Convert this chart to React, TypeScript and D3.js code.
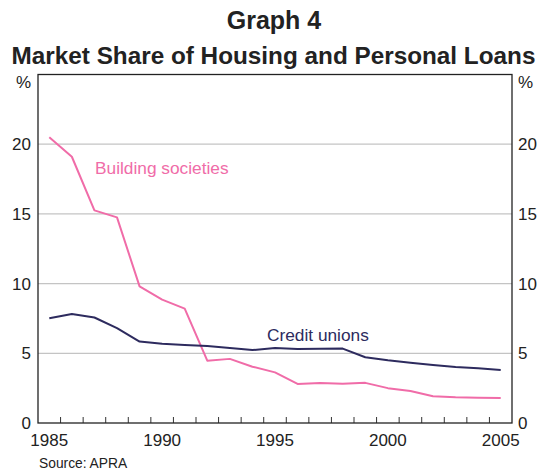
import React from "react";
import * as d3 from "d3";

const years: number[] = [1985, 1986, 1987, 1988, 1989, 1990, 1991, 1992, 1993, 1994, 1995, 1996, 1997, 1998, 1999, 2000, 2001, 2002, 2003, 2004, 2005];
const buildingSocieties: number[] = [20.5, 19.1, 15.25, 14.75, 9.8, 8.85, 8.2, 4.47, 4.6, 4.04, 3.63, 2.8, 2.87, 2.82, 2.88, 2.5, 2.3, 1.92, 1.85, 1.82, 1.8];
const creditUnions: number[] = [7.52, 7.82, 7.57, 6.8, 5.84, 5.68, 5.6, 5.52, 5.38, 5.23, 5.38, 5.3, 5.33, 5.34, 4.72, 4.5, 4.33, 4.16, 4.02, 3.92, 3.8];
const yTicks: number[] = [0, 5, 10, 15, 20];
const xLabels: number[] = [1985, 1990, 1995, 2000, 2005];

const W = 544;
const H = 472;
const M = { left: 38, right: 512, top: 74.5, bottom: 423 };
const FONT = "'Liberation Sans', Arial, Helvetica, sans-serif";
const PINK = "#f06ca8";
const NAVY = "#2d2b5e";

export default function App() {
  const x = d3.scaleLinear().domain([1985, 2006]).range([M.left, M.right]);
  const y = d3.scaleLinear().domain([0, 25]).range([M.bottom, M.top]);
  const line = d3
    .line<number>()
    .x((_, i) => x(years[i] + 0.5))
    .y((d) => y(d));

  const boundaries = d3.range(1986, 2006);

  return (
    <svg
      width={W}
      height={H}
      style={{ position: "absolute", left: 0, top: 0, display: "block", background: "#fff" }}
      fontFamily={FONT}
    >
      <text x={274} y={28.5} textAnchor="middle" fontSize={25} fontWeight="bold" fill="#222">
        Graph 4
      </text>
      <text x={273.5} y={64} textAnchor="middle" fontSize={24.3} fontWeight="bold" fill="#222">
        Market Share of Housing and Personal Loans
      </text>

      {yTicks.filter((t) => t > 0).map((t) => (
        <line key={"g" + t} x1={M.left} x2={M.right} y1={y(t)} y2={y(t)} stroke="#c4c4c4" strokeWidth={1.2} />
      ))}

      {boundaries.map((b) => (
        <line key={"t" + b} x1={x(b)} x2={x(b)} y1={M.bottom} y2={M.bottom - 6} stroke="#333" strokeWidth={1} />
      ))}

      <path d={line(buildingSocieties) || ""} fill="none" stroke={PINK} strokeWidth={2} strokeLinejoin="round" />
      <path d={line(creditUnions) || ""} fill="none" stroke={NAVY} strokeWidth={2} strokeLinejoin="round" />

      <rect x={M.left} y={M.top} width={M.right - M.left} height={M.bottom - M.top} fill="none" stroke="#222" strokeWidth={1.3} />

      {yTicks.map((t) => (
        <g key={"y" + t}>
          <text x={31} y={y(t) + 6} textAnchor="end" fontSize={17} fill="#222">
            {t}
          </text>
          <text x={518} y={y(t) + 6} textAnchor="start" fontSize={17} fill="#222">
            {t}
          </text>
        </g>
      ))}
      <text x={31} y={88} textAnchor="end" fontSize={17} fill="#222">%</text>
      <text x={518} y={88} textAnchor="start" fontSize={17} fill="#222">%</text>

      {xLabels.map((yr) => (
        <text key={"x" + yr} x={x(yr + 0.5)} y={446} textAnchor="middle" fontSize={17} fill="#222">
          {yr}
        </text>
      ))}

      <text x={95} y={174} fontSize={17.3} fill={PINK}>Building societies</text>
      <text x={267} y={340.5} fontSize={17.3} fill={NAVY}>Credit unions</text>

      <text x={39} y={468} fontSize={13.8} fill="#222">Source: APRA</text>
    </svg>
  );
}
